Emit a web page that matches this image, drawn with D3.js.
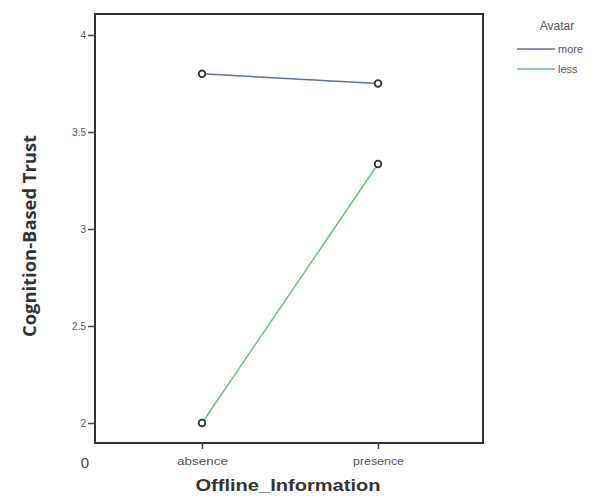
<!DOCTYPE html>
<html><head><meta charset="utf-8">
<script src="https://cdn.jsdelivr.net/npm/d3@7"></script>
<style>body{margin:0;background:#fff;} svg{display:block;}</style>
</head><body>
<script>
const categories = ["absence", "presence"];
const seriesNames = ["more", "less"];
const moreValues = [3.80, 3.75];
const lessValues = [2.00, 3.335];
const yTicks = [2, 2.5, 3, 3.5, 4];
const yTickLabels = ["2", "2.5", "3", "3.5", "4"];
const colors = ["#5f6fa8", "#66c083"];

const W = 592, H = 496;
const svg = d3.select("body").append("svg").attr("width", W).attr("height", H);
const L = 95, R = 483, T = 14, B = 443;
const sans = "Liberation Sans, Arial, sans-serif";

const y = d3.scaleLinear().domain([2, 4]).range([423, 35]);
const x = d3.scalePoint().domain(categories).range([202, 378]);

// frame
svg.append("rect").attr("x", L).attr("y", T).attr("width", R - L).attr("height", B - T)
  .attr("fill", "none").attr("stroke", "#333").attr("stroke-width", 2);

// y axis ticks
const yAxis = d3.axisLeft(y).tickValues(yTicks).tickFormat((d, i) => yTickLabels[i]).tickSize(7).tickPadding(2);
const gy = svg.append("g").attr("transform", `translate(${L},0)`).call(yAxis);
gy.select(".domain").remove();
gy.selectAll("line").attr("stroke", "#444").attr("stroke-width", 1.5);
gy.selectAll("text").attr("fill", "#555").style("font-family", sans).style("font-size", "10px");

// x axis ticks
const xAxis = d3.axisBottom(x).tickSize(6).tickPadding(9);
const gx = svg.append("g").attr("transform", `translate(0,${B})`).call(xAxis);
gx.select(".domain").remove();
gx.selectAll("line").attr("stroke", "#444").attr("stroke-width", 1.5);
gx.selectAll("text").attr("fill", "#555").style("font-family", sans).style("font-size", "10px")
  .attr("textLength", 51).attr("lengthAdjust", "spacingAndGlyphs");

// origin zero label
svg.append("text").attr("x", 85).attr("y", 468).attr("text-anchor", "middle")
  .style("font-family", sans).style("font-size", "15px").style("fill", "#444").text("0");

// axis titles
svg.append("text").attr("x", 288).attr("y", 491).attr("text-anchor", "middle")
  .style("font-family", sans).style("font-weight", "bold").style("font-size", "17px").style("fill", "#333")
  .attr("textLength", 185).attr("lengthAdjust", "spacingAndGlyphs")
  .text("Offline_Information");
svg.append("text").attr("transform", "translate(36,236) rotate(-90)").attr("text-anchor", "middle")
  .style("font-family", "Open Sans, sans-serif").style("font-weight", "bold").style("font-size", "17px").style("fill", "#333")
  .attr("textLength", 202).attr("lengthAdjust", "spacingAndGlyphs")
  .text("Cognition-Based Trust");

// series
const series = [moreValues, lessValues];
const line = d3.line().x((d, i) => x(categories[i])).y(d => y(d));
series.forEach((vals, s) => {
  svg.append("path").datum(vals).attr("d", line).attr("fill", "none")
    .attr("stroke", colors[s]).attr("stroke-width", 1.5);
});
series.forEach((vals) => {
  svg.selectAll(null).data(vals).enter().append("circle")
    .attr("cx", (d, i) => x(categories[i])).attr("cy", d => y(d)).attr("r", 3.3)
    .attr("fill", "#fff").attr("stroke", "#333").attr("stroke-width", 1.8);
});

// legend
svg.append("text").attr("x", 557).attr("y", 30).attr("text-anchor", "middle")
  .style("font-family", sans).style("font-size", "12px").style("fill", "#555").text("Avatar");
seriesNames.forEach((n, i) => {
  const ly = 49 + i * 20;
  svg.append("line").attr("x1", 517).attr("x2", 555).attr("y1", ly).attr("y2", ly)
    .attr("stroke", colors[i]).attr("stroke-width", 1.5);
  svg.append("text").attr("x", 558).attr("y", ly + 4).style("font-family", sans)
    .style("font-size", "11px").style("fill", "#555").text(n);
});
</script>
</body></html>
